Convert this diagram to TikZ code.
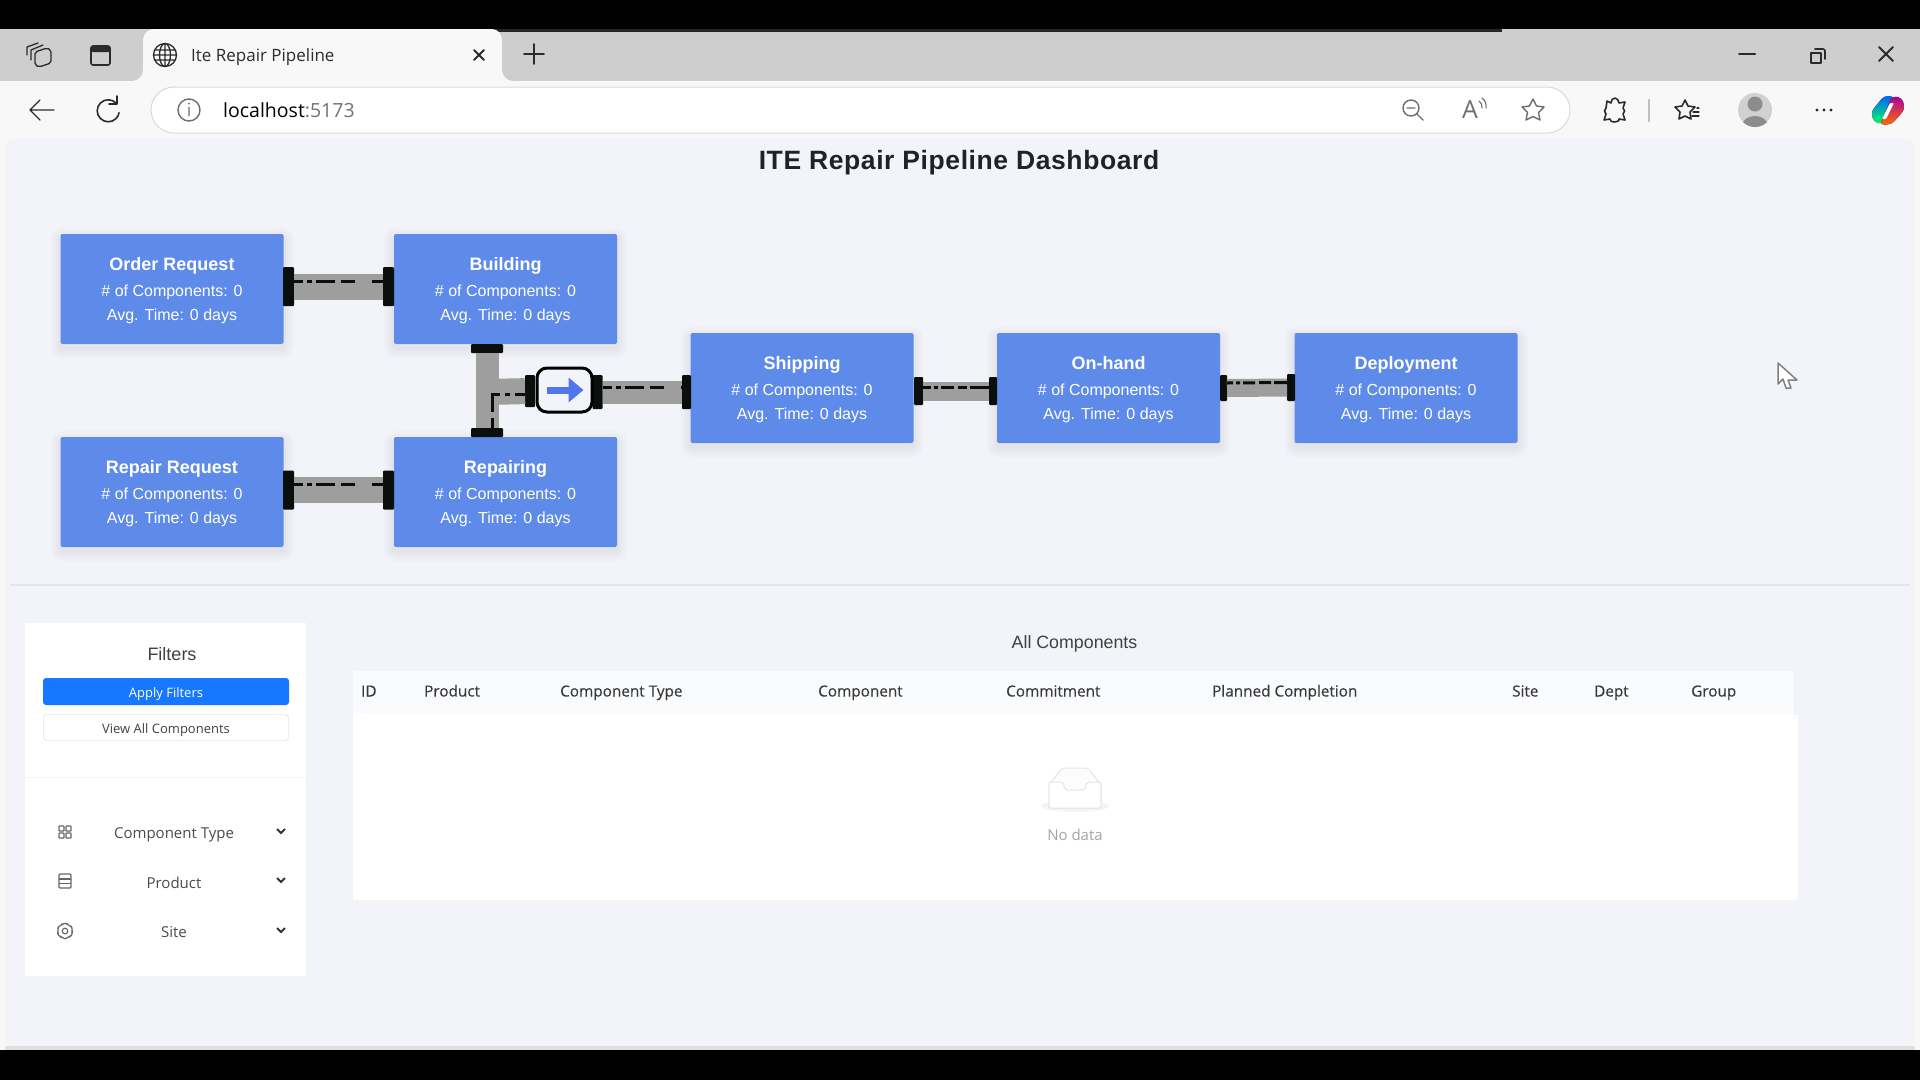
\documentclass[tikz,border=0pt]{standalone}
\usepackage{fontspec}
\setmainfont{Liberation Sans}
\newfontfamily\uifont{Open Sans}
\newfontfamily\uisemi[FakeBold=0.25]{Open Sans}
\usetikzlibrary{arrows.meta}
\definecolor{stageBlue}{HTML}{5E8AE9}
\definecolor{pipeGray}{HTML}{9E9E9E}
\definecolor{capBlack}{HTML}{0A0F0B}
\definecolor{pageBg}{HTML}{F2F4F9}
\definecolor{chromeBg}{HTML}{F8F8F8}
\definecolor{stripBg}{HTML}{CECECE}
\definecolor{iconDark}{HTML}{2B2B2B}
\definecolor{iconGray}{HTML}{6E6E6E}
\definecolor{antBlue}{HTML}{1677FF}
\definecolor{titleInk}{HTML}{1F2329}
\tikzset{
  softLayer/.style={preaction={draw=black, draw opacity=0.014, line width=#1, transform canvas={yshift=-4pt}}},
  stageBox/.style={rectangle, fill=stageBlue, text=white, rounded corners=2pt, minimum width=223pt, minimum height=110pt,
    inner sep=0pt, outer sep=0pt, align=center, softLayer=4pt, softLayer=9pt, softLayer=14pt, softLayer=20pt},
  pipeCap/.style={rectangle, fill=capBlack, rounded corners=1pt, inner sep=0pt, outer sep=0pt},
  pipeBody/.style={draw=pipeGray},
  pipeDash/.style={draw=capBlack, line width=3pt, dash pattern=on 9pt off 4pt on 5pt off 4pt on 19pt off 6pt on 14pt off 17pt on 11pt},
  uiText/.style={inner sep=0pt, anchor=base, font=\uifont\fontsize{15}{16}\selectfont, text=#1},
  uiText/.default=iconDark,
  headText/.style={inner sep=0pt, anchor=base west, font=\uisemi\fontsize{15.3}{16}\selectfont, text=black!78},
  btnText/.style={inner sep=0pt, text height=13pt, text depth=2pt, font=\uifont\fontsize{13}{14}\selectfont},
  thinIcon/.style={draw=iconDark, line width=1.6pt, line cap=round, line join=round},
  grayIcon/.style={draw=iconGray, line width=1.4pt, line cap=round, line join=round},
  filterIcon/.style={draw=black!60, line width=1.2pt, line join=round}
}
\newcommand{\stageLines}[1]{{\bfseries\fontsize{18}{19}\selectfont\rule[-5pt]{0pt}{21pt}#1}\\[8.3pt]
  {\fontsize{16}{16}\selectfont \# of Components: 0}\\[7.9pt]
  {\fontsize{16}{16}\selectfont Avg. Time: 0 days}}
\begin{document}
\begin{tikzpicture}[x=1pt, y=-1pt]
  \useasboundingbox (0,0) rectangle (1920,1080);
  % window
  \fill[black] (0,0) rectangle (1920,1080);
  \fill[stripBg] (0,29) rectangle (1920,81);
  \fill[chromeBg] (0,81) rectangle (1920,1050);
  \fill[black!85] (419,29) rectangle (1502,32);
  \fill[chromeBg] (132,81) to[out=0,in=-90] (143,70) -- (143,40) to[out=90,in=180] (154,29) -- (492,29) to[out=0,in=90] (502,40) -- (502,70) to[out=-90,in=180] (513,81) -- cycle;
  \draw[black!15, fill=white, line width=1pt, rounded corners=23pt] (151,87) rectangle (1570,133);
  \fill[pageBg, rounded corners=8pt] (5,139) rectangle (1915,1046);
  \fill[black!12] (5,1046) rectangle (1915,1050);

  % tab strip
  \draw[thinIcon, line width=1.3pt, rounded corners=2pt] (35,52) -- (47,48) -- (51,50) -- (51,63) -- (39,67) -- (35,65) -- cycle;
  \draw[thinIcon, line width=1.3pt] (31,60) -- (31,50) -- (43,45) (27,55) -- (27,47) -- (38,43);
  \draw[thinIcon, rounded corners=2pt] (91,46) rectangle (110,65);
  \fill[iconDark, rounded corners=2pt] (91,46) rectangle (110,52);
  \draw[thinIcon, line width=1.3pt] (165,55) circle (11.5) (153.5,55) -- (176.5,55) (155,50) -- (175,50) (155,60) -- (175,60) (165,43.5) -- (165,66.5);
  \draw[thinIcon, line width=1.3pt] (165,55) ellipse (5.5 and 11.5);
  \node[uiText, anchor=base west, font=\uifont\fontsize{17}{17}\selectfont] (tabTitle) at (191,61) {Ite Repair Pipeline};
  \draw[thinIcon, line width=1.8pt] (474,50) -- (484,60) (484,50) -- (474,60);
  \draw[thinIcon] (524,54) -- (544,54) (534,44) -- (534,64);
  \draw[thinIcon, line width=2pt] (1739,54) -- (1755,54);
  \draw[thinIcon] (1811,53) rectangle (1821,63);
  \draw[thinIcon, rounded corners=2pt] (1815,49) -- (1825,49) -- (1825,59);
  \draw[thinIcon, line width=2pt] (1879,47) -- (1893,61) (1893,47) -- (1879,61);

  % tool bar
  \draw[thinIcon, line width=1.4pt] (54,110) -- (30,110) (40,100) -- (30,110) -- (40,120);
  \draw[thinIcon] (116,103) arc[start angle=-45, end angle=-350, radius=11];
  \draw[thinIcon] (117,96) -- (117,104) -- (109,104);
  \draw[grayIcon] (189,110) circle (11) (189,107) -- (189,116);
  \fill[iconGray] (189,103.5) circle (1);
  \node[inner sep=0pt, anchor=base west, font=\uifont\fontsize{19.5}{20}\selectfont] (urlText) at (223,117.5) {localhost\textcolor{black!55}{:5173}};
  \draw[grayIcon] (1411,108) circle (8) (1407,108) -- (1415,108) (1417,114) -- (1423,120);
  \node[inner sep=0pt, font=\uifont\fontsize{25}{25}\selectfont, text=iconGray] (readAloud) at (1470,110) {A};
  \draw[grayIcon, line width=1.1pt] (1479,101) to[bend left=30] (1482,108) (1482,98) to[bend left=30] (1486,108);
  \draw[grayIcon] (1533,99) -- (1536.5,106) -- (1544,107) -- (1538.5,112.5) -- (1540,120) -- (1533,116.5) -- (1526,120) -- (1527.5,112.5) -- (1522,107) -- (1529.5,106) -- cycle;
  \draw[thinIcon] (1607,101) -- (1611,103) to[out=90,in=180] (1615,98) to[out=0,in=110] (1619,103) -- (1625,102) -- (1623,108) to[out=-30,in=30] (1623,114) -- (1625,120) -- (1619,119) to[out=-70,in=0] (1614,122) to[out=180,in=-110] (1610,119) -- (1604,120) -- (1606,114) to[out=150,in=-150] (1606,108) -- cycle;
  \draw[black!25, line width=1.4pt] (1649,99) -- (1649,122);
  \draw[thinIcon] (1685,100) -- (1688,106) -- (1695,107) -- (1690,112) -- (1691,119) -- (1685,116) -- (1679,119) -- (1680,112) -- (1675,107) -- (1682,106) -- cycle;
  \draw[thinIcon, line width=1.2pt] (1693,112) -- (1699,112) (1692,116) -- (1699,116) (1697,108) -- (1699,108);
  \fill[black!18] (1755,110) circle (17);
  \begin{scope}
    \clip (1755,110) circle (17);
    \fill[black!45] (1755,104) circle (7.5) (1755,126) ellipse (13 and 10);
  \end{scope}
  \fill[iconDark] (1817,110) circle (1.6) (1824,110) circle (1.6) (1831,110) circle (1.6);
  \fill[rounded corners=4pt, top color=blue!60!cyan, bottom color=green!65!cyan] (1871,112) -- (1884,96) -- (1894,96) -- (1884,124) -- (1874,122) -- cycle;
  \fill[rounded corners=4pt, top color=violet!70!magenta, bottom color=orange!85!red] (1905,109) -- (1892,124) -- (1880,125) -- (1892,96) -- (1902,98) -- cycle;
  \fill[white, rounded corners=1pt] (1890,103) -- (1894,103) -- (1886,119) -- (1882,119) -- cycle;

  % title
  \node[inner sep=0pt, anchor=base, font=\bfseries\fontsize{26.5}{27}\selectfont\addfontfeatures{LetterSpace=2.2}, text=titleInk] (dashTitle) at (959,169) {ITE Repair Pipeline Dashboard};

  % stages
  \node[stageBox] (orderRequest) at (172,289) {\stageLines{Order Request}};
  \node[stageBox] (building) at (505.5,289) {\stageLines{Building}};
  \node[stageBox] (repairRequest) at (172,492) {\stageLines{Repair Request}};
  \node[stageBox] (repairing) at (505.5,492) {\stageLines{Repairing}};
  \node[stageBox] (shipping) at (802,388) {\stageLines{Shipping}};
  \node[stageBox] (onHand) at (1108.5,388) {\stageLines{On-hand}};
  \node[stageBox] (deployment) at (1406,388) {\stageLines{Deployment}};

  % pipe ends
  \node[pipeCap, minimum width=11pt, minimum height=39pt] (orderCap) at (288.5,286.5) {};
  \node[pipeCap, minimum width=11pt, minimum height=39pt] (buildingCap) at (388.5,286.5) {};
  \node[pipeCap, minimum width=11pt, minimum height=39pt] (repairReqCap) at (288.5,490) {};
  \node[pipeCap, minimum width=11pt, minimum height=39pt] (repairingCap) at (388.5,490) {};
  \node[pipeCap, minimum width=32pt, minimum height=9pt] (buildDownCap) at (487,348.5) {};
  \node[pipeCap, minimum width=32pt, minimum height=9pt] (repairUpCap) at (487,432.5) {};
  \node[pipeCap, minimum width=10pt, minimum height=32pt] (mergeInCap) at (530,391) {};
  \node[pipeCap, minimum width=10pt, minimum height=34pt] (mergeOutCap) at (597.5,392) {};
  \node[pipeCap, minimum width=9pt, minimum height=34pt] (shipInCap) at (686.5,392) {};
  \node[pipeCap, minimum width=9pt, minimum height=28pt] (shipOutCap) at (918.5,391) {};
  \node[pipeCap, minimum width=8pt, minimum height=28pt] (handInCap) at (993,391) {};
  \node[pipeCap, minimum width=7pt, minimum height=26pt] (handOutCap) at (1223.5,388) {};
  \node[pipeCap, minimum width=8pt, minimum height=27pt] (deployCap) at (1291,387.5) {};
  \coordinate (mergeJoint) at (487,392);

  % pipes
  \draw[pipeBody, line width=26pt] (orderCap) -- (buildingCap);
  \draw[pipeBody, line width=26pt] (repairReqCap) -- (repairingCap);
  \draw[pipeBody, line width=23pt] (buildDownCap) -- (repairUpCap);
  \draw[pipeBody, line width=26pt] (mergeJoint) -- (mergeInCap);
  \draw[pipeBody, line width=23pt] (mergeOutCap) -- (shipInCap);
  \draw[pipeBody, line width=19pt] (shipOutCap) -- (handInCap);
  \draw[pipeBody, line width=18pt] (handOutCap) -- (deployCap);
  \draw[pipeDash] ([yshift=5.5pt]orderCap.east) -- ([yshift=5.5pt]buildingCap.west);
  \draw[pipeDash] ([yshift=6pt]repairReqCap.east) -- ([yshift=6pt]repairingCap.west);
  \draw[pipeDash] ([yshift=5pt]mergeOutCap.east) -- ([yshift=5pt]shipInCap.west);
  \draw[pipeDash, dash pattern=on 8pt off 3pt on 4pt off 3pt on 13pt off 4pt on 9pt off 3pt on 20pt] ([yshift=4pt]shipOutCap.east) -- ([yshift=4pt]handInCap.west);
  \draw[pipeDash, dash pattern=on 6pt off 3pt on 4pt off 3pt on 12pt off 4pt on 12pt off 3pt on 20pt] ([yshift=5pt]handOutCap.east) -- ([yshift=5pt]deployCap.west);
  \draw[pipeDash, dash pattern=on 10pt off 5pt on 5pt off 5pt on 26pt off 6pt on 12pt] ([yshift=-3pt]mergeInCap.west) -| ([xshift=5pt]repairUpCap.north);

  % merge valve
  \node[rectangle, draw=black, fill=pageBg, line width=3pt, rounded corners=10pt, minimum width=55pt, minimum height=44pt, inner sep=0pt] (mergeBox) at (564.5,390) {};
  \draw[-{Triangle[length=15pt,width=24pt]}, line width=7pt, draw=stageBlue!85!blue] ([xshift=-18pt]mergeBox.center) -- ([xshift=19pt]mergeBox.center);

  \draw[black!10, line width=1.5pt] (10,585) -- (1910,585);

  % filter panel
  \fill[white] (25,623) rectangle (306,976);
  \node[uiText, font=\fontsize{18}{18}\selectfont, text=black!75] (filtersTitle) at (172,660.5) {Filters};
  \node[rectangle, btnText, fill=antBlue, rounded corners=3pt, minimum width=246pt, minimum height=27pt, text=white] (applyBtn) at (166,691.5) {Apply Filters};
  \node[rectangle, btnText, draw=black!18, fill=white, rounded corners=3pt, minimum width=245pt, minimum height=26pt, text=black!75] (viewBtn) at (166,727.5) {View All Components};
  \draw[black!4, line width=1pt] (25,777) -- (306,777);
  \node[uiText=black!70] (typeItem) at (174,838.5) {Component Type};
  \node[uiText=black!70] (productItem) at (174,888.5) {Product};
  \node[uiText=black!70] (siteItem) at (174,937.5) {Site};
  \foreach \cx/\cy in {59/826, 66/826, 59/833, 66/833}
    \draw[filterIcon, rounded corners=0.5pt] (\cx,\cy) rectangle ++(5,5);
  \draw[filterIcon, rounded corners=1pt] (59,874) rectangle (71,888);
  \draw[filterIcon] (59,879) -- (71,879) (59,883.5) -- (71,883.5);
  \draw[filterIcon] (65,931) circle (2.8);
  \draw[filterIcon, rounded corners=1pt] (65,923) -- (72,927) -- (72,935) -- (65,939) -- (58,935) -- (58,927) -- cycle;
  \draw[filterIcon, dash pattern=on 2pt off 3.2pt] (65,931) circle (7.6);
  \foreach \cy in {831, 880, 930}
    \draw[black!80, line width=1.8pt] (277,\cy-2) -- (281,\cy+2) -- (285,\cy-2);

  % table
  \node[uiText=black!75, font=\fontsize{17.8}{18}\selectfont] (tableTitle) at (1074.5,648) {All Components};
  \fill[white!60!pageBg] (353,671) rectangle (1794,715);
  \fill[white] (353,715) rectangle (1798,900);
  \node[headText] (idHead) at (361,696.5) {ID};
  \node[headText] (productHead) at (424,696.5) {Product};
  \node[headText] (typeHead) at (560,696.5) {Component Type};
  \node[headText] (compHead) at (818,696.5) {Component};
  \node[headText] (commitHead) at (1006,696.5) {Commitment};
  \node[headText] (plannedHead) at (1212,696.5) {Planned Completion};
  \node[headText] (siteHead) at (1512,696.5) {Site};
  \node[headText] (deptHead) at (1594,696.5) {Dept};
  \node[headText] (groupHead) at (1691,696.5) {Group};

  % empty state
  \fill[black!4] (1075,806) ellipse (34 and 6);
  \draw[black!10, fill=black!1, line width=1pt, rounded corners=2pt] (1049,785) -- (1062,768) -- (1088,768) -- (1101,785) -- (1101,808) -- (1049,808) -- cycle;
  \draw[black!10, fill=white, line width=1pt, rounded corners=2pt] (1049,782) -- (1063,782) -- (1065,790) -- (1085,790) -- (1087,782) -- (1101,782) -- (1101,808) -- (1049,808) -- cycle;
  \node[uiText=black!35, font=\uifont\fontsize{15}{15}\selectfont] (noData) at (1075,840) {No data};

  % mouse pointer
  \draw[black!50, fill=white, line width=1.5pt, line join=round] (1778,363) -- (1778,384) -- (1783,379) -- (1786,388) -- (1791,388) -- (1788,380) -- (1797,380) -- cycle;
\end{tikzpicture}
\end{document}
